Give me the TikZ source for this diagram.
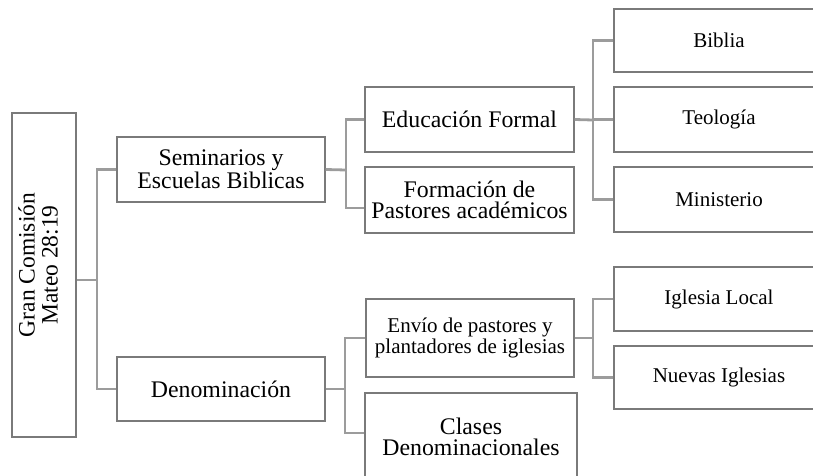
\documentclass[tikz,border=0pt]{standalone}
\usepackage{fontspec}
\setmainfont{Liberation Serif}
\definecolor{boxgray}{HTML}{7A7A7A}
\definecolor{conngray}{HTML}{9C9C9C}
\begin{document}
\begin{tikzpicture}[x=1pt,y=-1pt,
  box/.style={draw=boxgray, line width=1.3pt, fill=white, inner sep=0pt, align=center},
  big/.style={font=\fontsize{23.8}{21.5}\selectfont},
  small/.style={font=\fontsize{21}{18.8}\selectfont},
  conn/.style={draw=conngray, line width=2.8pt}]
\useasboundingbox (0,0) rectangle (813,476);
\clip (0,0) rectangle (813,476);

% nodes
\node[box, minimum width=64pt, minimum height=324pt] (G) at (44,275) {};
\node[rotate=90, align=center, font=\fontsize{23.5}{23}\selectfont] (Gt) at ([xshift=-6pt,yshift=10pt]G.center) {Gran Comisión\\Mateo 28:19};

\node[box, big, minimum width=208pt, minimum height=65pt] (S) at (221,169.5) {Seminarios y\\Escuelas Biblicas};
\node[box, big, minimum width=208pt, minimum height=64pt] (D) at (221,389) {Denominación};

\node[box, big, minimum width=209pt, minimum height=65pt] (EF) at (469.5,119.5) {Educación Formal};
\node[box, big, minimum width=209pt, minimum height=66pt] (FP) at (469.5,200) {Formación de\\Pastores académicos};
\node[box, small, minimum width=208pt, minimum height=78pt] (EP) at (470,338) {Envío de pastores y\\plantadores de iglesias};
\node[box, big, minimum width=212pt, minimum height=88pt] (CD) at (471,437) {Clases\\Denominacionales};

\node[box, small, minimum width=210pt, minimum height=63pt] (B) at (719,40.5) {Biblia};
\node[box, small, minimum width=210pt, minimum height=65pt] (T) at (719,119.5) {Teología};
\node[box, small, minimum width=210pt, minimum height=65pt] (M) at (719,199.5) {Ministerio};
\node[box, small, minimum width=210pt, minimum height=64pt] (IL) at (719,299) {Iglesia Local};
\node[box, small, minimum width=210pt, minimum height=63pt] (NI) at (719,377.5) {Nuevas Iglesias};

% junctions
\coordinate (j1) at (97,280);
\coordinate (j2) at (346,170);
\coordinate (j3) at (593,120);
\coordinate (j4) at (345,389);
\coordinate (j5) at (593,338);

% connectors
\draw[conn] ([yshift=-5pt]G.east) -- (j1);
\draw[conn] (S.west) -| (j1);
\draw[conn] (D.west) -| (j1);

\draw[conn] (S.east) -- (j2);
\draw[conn] (EF.west) -| (j2);
\draw[conn] ([yshift=-8pt]FP.west) -| (j2);

\draw[conn] (EF.east) -- (j3);
\draw[conn] (B.west) -| (j3);
\draw[conn] (T.west) -| (j3);
\draw[conn] (M.west) -| (j3);

\draw[conn] (D.east) -- (j4);
\draw[conn] (EP.west) -| (j4);
\draw[conn] ([yshift=4pt]CD.west) -| (j4);

\draw[conn] (EP.east) -- (j5);
\draw[conn] (IL.west) -| (j5);
\draw[conn] (NI.west) -| (j5);
\end{tikzpicture}
\end{document}
